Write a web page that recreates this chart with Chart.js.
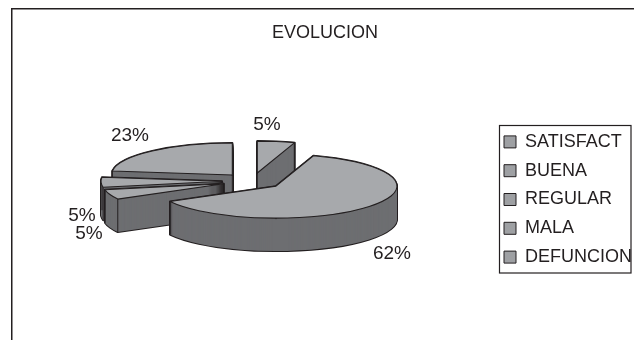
<!DOCTYPE html>
<html>
<head>
<meta charset="utf-8">
<title>Evolucion</title>
<script src="https://cdn.jsdelivr.net/npm/chart.js@4"></script>
<style>
  html, body { margin: 0; background: #fff; }
  canvas { display: block; }
</style>
</head>
<body>
<canvas id="chart" width="634" height="340"></canvas>
<script>
const categories = ['SATISFACT', 'BUENA', 'REGULAR', 'MALA', 'DEFUNCION'];
const percents = [5, 62, 5, 5, 23];

const INK = '#231f20';
const TOP_GRAY = '#a7a9ac';
const SIDE_GRAY = '#6d6e71';
const FONT = '"Liberation Sans", Arial, sans-serif';

// pie tilt: flattening, wall height and how far slices are pulled out
const PIE = { x: 252.5, y: 181, flatten: 0.264, depth: 33, explode: 30.5 };

// where each percent text sits, same order as the categories
const pctAnchors = [[267, 125], [392, 254], [89, 234], [82, 216], [130, 136]];

function strokeDevice(ctx, width) {
  // the arc path is already in device space, so the line is not squashed by the tilt
  ctx.save();
  ctx.setTransform(1, 0, 0, 1, 0, 0);
  ctx.lineWidth = width;
  ctx.strokeStyle = INK;
  ctx.lineJoin = 'round';
  ctx.stroke();
  ctx.restore();
}

function sliceOffset(arc) {
  const mid = (arc.startAngle + arc.endAngle) / 2;
  return { x: Math.cos(mid) * PIE.explode, y: Math.sin(mid) * PIE.explode };
}

function drawLayer(ctx, arc, color, drop) {
  const off = sliceOffset(arc);
  const layer = Object.create(arc);
  layer.options = { ...arc.options, backgroundColor: color };
  ctx.save();
  ctx.setTransform(1, 0, 0, PIE.flatten,
    PIE.x - arc.x + off.x,
    PIE.y + drop - PIE.flatten * (arc.y - off.y));
  layer.draw(ctx);
  ctx.restore();
}

function drawEdges(ctx, arc) {
  const off = sliceOffset(arc);
  const cx = PIE.x + off.x;
  const cy = PIE.y + off.y * PIE.flatten;
  const corners = [[cx, cy]];
  [arc.startAngle, arc.endAngle].forEach(a => {
    corners.push([cx + Math.cos(a) * arc.outerRadius,
      cy + Math.sin(a) * arc.outerRadius * PIE.flatten]);
  });
  ctx.save();
  ctx.strokeStyle = INK;
  ctx.lineWidth = 1;
  ctx.beginPath();
  corners.forEach(([x, y]) => {
    ctx.moveTo(x, y);
    ctx.lineTo(x, y + PIE.depth);
  });
  ctx.stroke();
  ctx.restore();
}

const tiltedPie = {
  id: 'tiltedPie',
  beforeDatasetsDraw(chart) {
    const ctx = chart.ctx;
    const arcs = chart.getDatasetMeta(0).data.slice();
    // back slices first so the front ones cover them
    arcs.sort((a, b) =>
      Math.sin((a.startAngle + a.endAngle) / 2) - Math.sin((b.startAngle + b.endAngle) / 2));

    arcs.forEach(arc => {
      // wall outline first, then fill over it so only the silhouette stays
      for (let d = PIE.depth; d >= 0; d--) {
        drawLayer(ctx, arc, SIDE_GRAY, d);
        strokeDevice(ctx, 2);
      }
      for (let d = PIE.depth; d >= 0; d--) {
        drawLayer(ctx, arc, SIDE_GRAY, d);
      }
      drawEdges(ctx, arc);
      drawLayer(ctx, arc, TOP_GRAY, 0);
      strokeDevice(ctx, 1.1);
    });

    ctx.save();
    ctx.fillStyle = INK;
    ctx.font = '19px ' + FONT;
    ctx.textAlign = 'center';
    ctx.textBaseline = 'middle';
    percents.forEach((v, i) => {
      ctx.fillText(v + '%', pctAnchors[i][0], pctAnchors[i][1]);
    });
    ctx.restore();
    return false;
  },
  afterDraw(chart) {
    // outer frame (top and left only) and the box round the legend
    const ctx = chart.ctx;
    ctx.save();
    ctx.strokeStyle = INK;
    ctx.lineWidth = 1.5;
    ctx.beginPath();
    ctx.moveTo(11.75, 340);
    ctx.lineTo(11.75, 8.75);
    ctx.lineTo(634, 8.75);
    ctx.stroke();
    ctx.lineWidth = 1.2;
    ctx.strokeRect(499.5, 125.5, 131.5, 147.5);
    ctx.restore();
  }
};

new Chart(document.getElementById('chart'), {
  type: 'pie',
  data: {
    labels: categories,
    datasets: [{
      data: percents,
      backgroundColor: TOP_GRAY,
      borderWidth: 0,
      radius: 121
    }]
  },
  options: {
    responsive: false,
    animation: false,
    layout: { padding: { left: 8, right: -8, top: 10, bottom: -49 } },
    plugins: {
      tooltip: { enabled: false },
      title: {
        display: true,
        text: 'EVOLUCION',
        color: INK,
        font: { family: FONT, size: 18, weight: 'normal' },
        padding: { top: 12, bottom: 40 }
      },
      legend: {
        position: 'right',
        labels: {
          color: INK,
          boxWidth: 12,
          boxHeight: 12,
          padding: 10.8,
          font: { family: FONT, size: 18 },
          generateLabels(chart) {
            return Chart.overrides.pie.plugins.legend.labels.generateLabels(chart)
              .map(item => ({ ...item, fillStyle: '#9ea0a3', strokeStyle: INK, lineWidth: 1 }));
          }
        }
      }
    }
  },
  plugins: [tiltedPie]
});
</script>
</body>
</html>
